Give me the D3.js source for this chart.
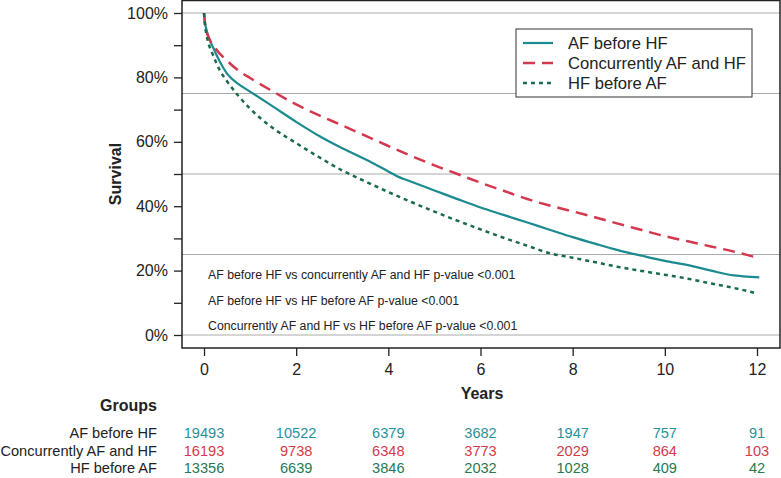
<!DOCTYPE html>
<html><head><meta charset="utf-8">
<script src="https://cdn.jsdelivr.net/npm/d3@7/dist/d3.min.js"></script>
<style>body{margin:0;background:#fff}svg{display:block;font-family:"Liberation Sans",Arial,sans-serif}</style>
</head><body><svg id="c" width="781" height="478"></svg>
<script>
const seriesNames = ["AF before HF", "Concurrently AF and HF", "HF before AF"];
const seriesColors = ["#1b8b8f", "#d4384e", "#1a6b4a"];
const tableColors = ["#27929a", "#d33a4d", "#257a55"];
const timesA = [0,0.02,0.05,0.1,0.2,0.35,0.5,0.75,1,1.5,2,2.5,3,3.5,4,4.18,4.5,5,5.5,6,6.5,7,7.5,8,8.5,9,9.5,10,10.5,11,11.5,11.8,12.05];
const survA = [100,97,95,92.5,89.2,84.7,81.2,77.9,75.6,70.9,66.2,61.8,58.0,54.6,50.8,49.4,47.6,44.9,42.2,39.6,37.3,35.0,32.7,30.4,28.3,26.3,24.6,23.0,21.7,20.0,18.5,18.1,17.9];
const timesB = [0,0.02,0.05,0.1,0.25,0.5,0.75,1,1.5,2,2.5,3,3.5,4,4.5,5,5.5,6,6.5,7,7.5,8,8.5,9,9.5,10,10.5,11,11.5,11.8,12.05];
const survB = [100,97,94.5,92.5,89,85.2,82.1,79.8,75.6,71.6,68.2,65.1,61.9,58.7,55.6,52.7,50.0,47.3,44.8,42.3,40.2,38.4,36.5,34.5,32.6,30.7,29.1,27.5,25.9,24.8,23.8];
const timesC = [0,0.02,0.05,0.1,0.2,0.35,0.5,0.75,1,1.5,2,2.5,3,3.5,4,4.5,5,5.5,6,6.5,7,7.5,8,8.5,9,9.5,10,10.5,11,11.5,11.95];
const survC = [100,96.5,93.5,90.5,86.8,82,78.8,74.2,70.3,64.2,59.6,55.2,51.1,47.7,44.4,41.3,38.3,35.5,32.8,30.2,27.8,25.4,24.0,22.6,21.1,19.9,18.7,17.5,16.0,14.6,13.1];
const xTicks = [0,2,4,6,8,10,12];
const yTicks = [0,20,40,60,80,100];
const yMinor = [10,30,50,70,90];
const gridVals = [0,25,50,75,100];
const atRisk = [
  [19493,10522,6379,3682,1947,757,91],
  [16193,9738,6348,3773,2029,864,103],
  [13356,6639,3846,2032,1028,409,42]
];
const pvalueNotes = [
  "AF before HF vs concurrently AF and HF p-value <0.001",
  "AF before HF vs HF before AF p-value <0.001",
  "Concurrently AF and HF vs HF before AF p-value <0.001"
];

const svg = d3.select("#c");
const L = 182, R = 780, T = 0, B = 348;
const x = d3.scaleLinear().domain([0,12]).range([204, 757]);
const y = d3.scaleLinear().domain([0,100]).range([335, 13]);

// gridlines
svg.append("g").selectAll("line").data(gridVals).join("line")
  .attr("x1", L).attr("x2", R).attr("y1", d=>y(d)).attr("y2", d=>y(d))
  .attr("stroke", "#aaa").attr("stroke-width", 1);

// frame
svg.append("rect").attr("x", L).attr("y", T+0.5).attr("width", R-L).attr("height", B-T-0.5)
  .attr("fill","none").attr("stroke","#222").attr("stroke-width",1.5);

// y axis
const yAxis = d3.axisLeft(y).tickValues(yTicks).tickSize(8).tickPadding(6).tickFormat(d=>d+"%");
const gy = svg.append("g").attr("transform",`translate(${L},0)`).call(yAxis);
gy.select(".domain").remove();
gy.selectAll("text").attr("font-size",16).attr("fill","#222").attr("font-family","Liberation Sans, Arial, sans-serif");
gy.selectAll("line").attr("stroke","#222").attr("stroke-width",1.3);
const gym = svg.append("g").attr("transform",`translate(${L},0)`).call(d3.axisLeft(y).tickValues(yMinor).tickSize(8).tickFormat(""));
gym.select(".domain").remove();
gym.selectAll("line").attr("stroke","#222").attr("stroke-width",1.3);

// x axis
const gx = svg.append("g").attr("transform",`translate(0,${B})`).call(d3.axisBottom(x).tickValues(xTicks).tickSize(8).tickPadding(8));
gx.select(".domain").remove();
gx.selectAll("text").attr("font-size",16).attr("fill","#222").attr("font-family","Liberation Sans, Arial, sans-serif");
gx.selectAll("line").attr("stroke","#222").attr("stroke-width",1.3);

// axis titles
svg.append("text").attr("x",482).attr("y",399).attr("text-anchor","middle")
  .attr("font-size",16).attr("font-weight","bold").attr("fill","#222").text("Years");
svg.append("text").attr("transform","translate(121,174) rotate(-90)").attr("text-anchor","middle")
  .attr("font-size",16).attr("font-weight","bold").attr("fill","#222").text("Survival");

// curves
const series = [
  {t: timesA, s: survA, dash: null, w: 2.2},
  {t: timesB, s: survB, dash: "12,7", w: 2.5},
  {t: timesC, s: survC, dash: "4,4", w: 2.5}
];
const line = d3.line().x(d=>x(d[0])).y(d=>y(d[1])).curve(d3.curveMonotoneX);
series.forEach((sr,i)=>{
  const pts = sr.t.map((t,j)=>[t, sr.s[j]]);
  svg.append("path").attr("d", line(pts)).attr("fill","none")
    .attr("stroke", seriesColors[i]).attr("stroke-width", sr.w)
    .attr("stroke-dasharray", sr.dash);
});

// legend
const lg = svg.append("g");
lg.append("rect").attr("x",516).attr("y",29).attr("width",236).attr("height",68)
  .attr("fill","#fff").attr("stroke","#333").attr("stroke-width",1);
seriesNames.forEach((n,i)=>{
  const yy = 43 + i*20;
  lg.append("line").attr("x1",523).attr("x2",553).attr("y1",yy).attr("y2",yy)
    .attr("stroke",seriesColors[i]).attr("stroke-width",series[i].w)
    .attr("stroke-dasharray", series[i].dash);
  lg.append("text").attr("x",568).attr("y",yy+5.5).attr("font-size",16.6).attr("fill","#222").text(n);
});

// p-value notes
pvalueNotes.forEach((t,i)=>{
  svg.append("text").attr("x",208).attr("y",279 + i*25.5).attr("font-size",12.3).attr("fill","#222").text(t);
});

// at-risk table
svg.append("text").attr("x",157).attr("y",411).attr("text-anchor","end")
  .attr("font-size",16).attr("font-weight","bold").attr("fill","#222").text("Groups");
seriesNames.forEach((n,i)=>{
  const yy = 438 + i*17.7;
  svg.append("text").attr("x",157).attr("y",yy).attr("text-anchor","end")
    .attr("font-size",14.6).attr("fill","#222").text(n);
  atRisk[i].forEach((v,j)=>{
    svg.append("text").attr("x",x(xTicks[j])).attr("y",yy).attr("text-anchor","middle")
      .attr("font-size",14.6).attr("fill",tableColors[i]).text(v);
  });
});
</script></body></html>
